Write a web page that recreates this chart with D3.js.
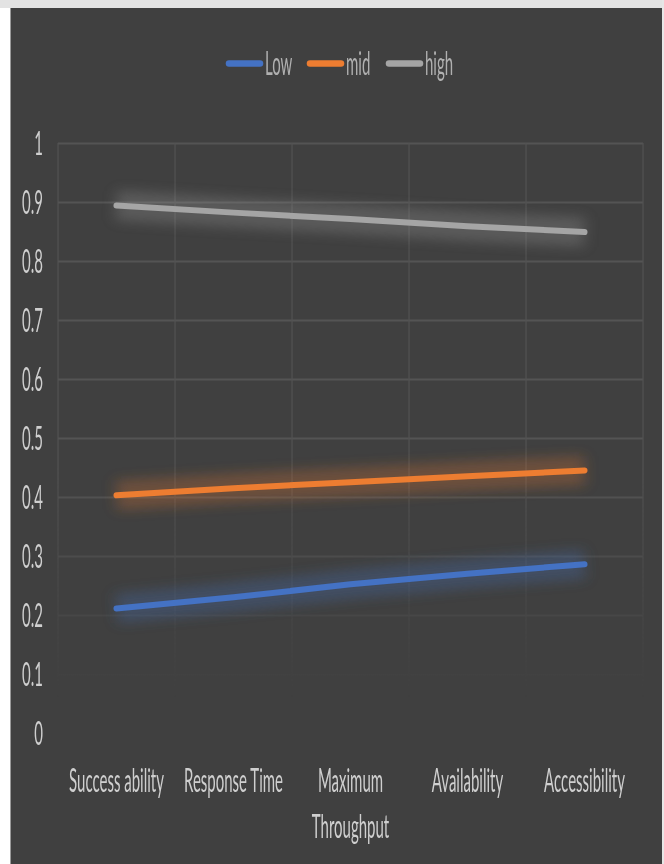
<!DOCTYPE html>
<html>
<head>
<meta charset="utf-8">
<script src="https://cdn.jsdelivr.net/npm/d3@7"></script>
<style>
  html, body { margin: 0; padding: 0; background: #ffffff; }
  svg { display: block; }
  text { font-family: Lato, "Open Sans", sans-serif; font-weight: 400; }
</style>
</head>
<body>
<svg id="chart" width="664" height="864"></svg>
<script>
// Categories along the x axis
const categories = ["Success ability", "Response Time", "Maximum Throughput", "Availability", "Accessibility"];
// Series names and values (one value per category)
const seriesNames = ["Low", "mid", "high"];
const lowValues  = [0.211, 0.230, 0.252, 0.270, 0.286];
const midValues  = [0.403, 0.415, 0.425, 0.435, 0.445];
const highValues = [0.894, 0.882, 0.871, 0.859, 0.849];
const yTicks = [0, 0.1, 0.2, 0.3, 0.4, 0.5, 0.6, 0.7, 0.8, 0.9, 1];

const seriesColors = ["#4472C4", "#ED7D31", "#A5A5A5"];
const series = seriesNames.map((name, i) => ({
  name,
  color: seriesColors[i],
  values: [lowValues, midValues, highValues][i]
}));

const W = 664, H = 864;
const plot = { left: 58, right: 643, top: 143, bottom: 733 };
const stretch = 2.25;          // tall, narrow lettering
const fontSize = 15;

const svg = d3.select("#chart");

// Page frame and dark chart panel
svg.append("rect").attr("x", 0).attr("y", 0).attr("width", W).attr("height", H).attr("fill", "#ffffff");
svg.append("rect").attr("x", 0).attr("y", 0).attr("width", W).attr("height", 8).attr("fill", "#e3e3e3");
svg.append("rect").attr("x", 662).attr("y", 0).attr("width", 2).attr("height", H).attr("fill", "#e6e6e6");
svg.append("rect").attr("x", 10).attr("y", 8).attr("width", 652).attr("height", H - 8).attr("fill", "#404040");
svg.append("line").attr("x1", 10.5).attr("x2", 10.5).attr("y1", 8).attr("y2", H)
  .attr("stroke", "#9a9a9a").attr("stroke-width", 1);

const x = d3.scaleBand().domain(categories).range([plot.left, plot.right]).padding(0);
const y = d3.scaleLinear().domain([0, 1]).range([plot.bottom, plot.top]);
const cx = d => x(d) + x.bandwidth() / 2;

const defs = svg.append("defs");

// Gridlines fade out towards the bottom of the plot
const fade = defs.append("linearGradient").attr("id", "gridFade")
  .attr("gradientUnits", "userSpaceOnUse")
  .attr("x1", 0).attr("x2", 0).attr("y1", y(0.45)).attr("y2", y(0.06));
fade.append("stop").attr("offset", 0).attr("stop-color", "#fff");
fade.append("stop").attr("offset", 1).attr("stop-color", "#000");
defs.append("mask").attr("id", "gridMask")
  .attr("maskUnits", "userSpaceOnUse")
  .attr("x", 0).attr("y", 0).attr("width", W).attr("height", H)
  .append("rect").attr("x", 0).attr("y", 0).attr("width", W).attr("height", H)
  .attr("fill", "url(#gridFade)");

// Soft glow around each series line
defs.append("filter").attr("id", "glow")
  .attr("filterUnits", "userSpaceOnUse")
  .attr("x", 0).attr("y", 0).attr("width", W).attr("height", H)
  .append("feGaussianBlur").attr("stdDeviation", "7 6");

const grid = svg.append("g").attr("mask", "url(#gridMask)");

// Horizontal gridlines from the y axis
grid.append("g")
  .attr("transform", `translate(${plot.left},0)`)
  .call(d3.axisLeft(y).tickValues(yTicks).tickSize(-(plot.right - plot.left)).tickFormat(""))
  .call(g => g.select(".domain").remove())
  .call(g => g.selectAll(".tick line").attr("stroke", "#545454").attr("stroke-width", 2));

// Vertical gridlines at category boundaries
const bounds = categories.map(c => x(c)).concat([plot.right]);
grid.append("g").selectAll("line").data(bounds).join("line")
  .attr("x1", d => d).attr("x2", d => d)
  .attr("y1", plot.top).attr("y2", plot.bottom)
  .attr("stroke", "#535353").attr("stroke-width", 1.2);

// Y axis labels
const yAxis = svg.append("g")
  .attr("transform", `translate(${plot.left},0)`)
  .call(d3.axisLeft(y).tickValues(yTicks).tickSize(0).tickFormat(d3.format("")));
yAxis.select(".domain").remove();
yAxis.selectAll(".tick text")
  .attr("x", null).attr("dy", null)
  .attr("transform", `translate(-15,11.5) scale(1,${stretch})`)
  .attr("fill", "#cfcfcf")
  .attr("font-size", fontSize)
  .attr("text-anchor", "end");

// X axis labels, wrapped to the category width
const xAxis = svg.append("g")
  .attr("transform", `translate(0,${plot.bottom})`)
  .call(d3.axisBottom(x).tickSize(0));
xAxis.select(".domain").remove();
xAxis.selectAll(".tick text").each(function(d) {
  const t = d3.select(this);
  t.text(null).attr("y", null).attr("dy", null)
    .attr("fill", "#cfcfcf")
    .attr("font-size", fontSize)
    .attr("text-anchor", "middle")
    .attr("transform", `translate(0,59) scale(1,${stretch})`);
  const words = d.split(" ");
  const maxW = x.bandwidth() - 14;
  let lines = [], cur = [];
  const probe = t.append("tspan");
  words.forEach(w => {
    const test = cur.concat([w]).join(" ");
    probe.text(test);
    if (cur.length && probe.node().getComputedTextLength() > maxW) {
      lines.push(cur.join(" "));
      cur = [w];
    } else {
      cur.push(w);
    }
  });
  lines.push(cur.join(" "));
  probe.remove();
  lines.forEach((ln, i) => {
    t.append("tspan").attr("x", 0).attr("y", i * 20.5).text(ln);
  });
});

// Series lines
const line = d3.line().x((v, i) => cx(categories[i])).y(v => y(v));

const glowG = svg.append("g").attr("filter", "url(#glow)");
glowG.selectAll("path").data(series).join("path")
  .attr("d", d => line(d.values))
  .attr("fill", "none")
  .attr("stroke", d => d.color)
  .attr("stroke-opacity", 0.26)
  .attr("stroke-width", 30)
  .attr("stroke-linecap", "butt");

svg.append("g").selectAll("path").data(series).join("path")
  .attr("d", d => line(d.values))
  .attr("fill", "none")
  .attr("stroke", d => d.color)
  .attr("stroke-width", 6)
  .attr("stroke-linecap", "round")
  .attr("stroke-linejoin", "round");

// Legend
const legendItems = [
  { s: series[0], x: 226 },
  { s: series[1], x: 307 },
  { s: series[2], x: 386 }
];
const leg = svg.append("g");
legendItems.forEach(it => {
  leg.append("line")
    .attr("x1", it.x + 3).attr("x2", it.x + 34)
    .attr("y1", 63.5).attr("y2", 63.5)
    .attr("stroke", it.s.color)
    .attr("stroke-width", 6.5)
    .attr("stroke-linecap", "round");
  leg.append("text")
    .attr("transform", `translate(${it.x + 39},75) scale(1,${stretch})`)
    .attr("fill", "#b0b0b0")
    .attr("font-size", fontSize)
    .text(it.s.name);
});
</script>
</body>
</html>
